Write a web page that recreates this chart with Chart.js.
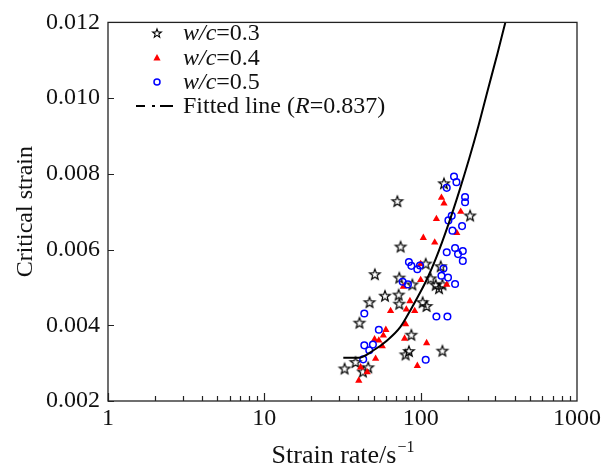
<!DOCTYPE html>
<html>
<head>
<meta charset="utf-8">
<script src="https://cdn.jsdelivr.net/npm/chart.js@4.4.0/dist/chart.umd.min.js"></script>
<style>
  html, body { margin: 0; padding: 0; background: #fff; }
</style>
</head>
<body>
<canvas id="chart" width="606" height="470"></canvas>
<script>
    // values
    const starX = [141, 70.9, 207, 74.4, 107.7, 134.4, 50.9, 73.0, 88.5, 115.9, 124.8, 131, 137.7, 59.1, 72.3, 73.0, 47.1, 103, 109, 40.6, 87.2, 84.1, 80.1, 137.8, 38.3, 46.2, 42.7, 32.6];
    const starY = [0.00775, 0.00728, 0.00690, 0.00608, 0.00563, 0.00556, 0.00535, 0.00526, 0.00508, 0.00524, 0.00507, 0.00498, 0.00508, 0.00478, 0.00481, 0.00457, 0.00461, 0.00461, 0.00451, 0.00407, 0.00375, 0.00332, 0.00323, 0.00333, 0.00303, 0.00289, 0.00278, 0.00286];

    const triX = [135.8, 141, 180.4, 126.1, 170.2, 104, 123, 100, 100, 77.5, 146.8, 85.4, 81, 91.6, 64.2, 80.1, 59.9, 57.7, 54.0, 50.7, 56.8, 78.9, 109.2, 51.5, 41.3, 45.5, 95.2, 40.2];
    const triY = [0.00737, 0.00722, 0.00700, 0.00681, 0.00644, 0.00631, 0.00619, 0.00562, 0.00520, 0.00502, 0.00507, 0.00464, 0.00442, 0.00438, 0.00438, 0.00403, 0.00388, 0.00373, 0.00360, 0.00363, 0.00345, 0.00365, 0.00353, 0.00312, 0.00289, 0.00276, 0.00293, 0.00254];

    const cirX = [163.4, 169.4, 146.8, 192.3, 192.3, 158, 150.5, 184, 159.7, 166, 186, 173.4, 146.8, 186, 84.1, 87.2, 95.2, 99, 139.9, 135.8, 149.6, 166, 76.7, 82.9, 126.1, 148.3, 43.6, 54.0, 43.6, 49.5, 46.9, 42.9, 107.7];
    const cirY = [0.00793, 0.00778, 0.00763, 0.00739, 0.00725, 0.00689, 0.00677, 0.00662, 0.00650, 0.00604, 0.00596, 0.00588, 0.00593, 0.00570, 0.00567, 0.00557, 0.00548, 0.00558, 0.00550, 0.00531, 0.00526, 0.00509, 0.00515, 0.00508, 0.00423, 0.00423, 0.00431, 0.00388, 0.00347, 0.00349, 0.00334, 0.00310, 0.00309];

    const fitX = [32, 40, 50, 61, 74, 86, 100, 110, 125, 152, 175, 204, 235, 267, 310, 348];
    const fitY = [0.00314, 0.00314, 0.00334, 0.0036, 0.00395, 0.0044, 0.00489, 0.00523, 0.00576, 0.00672, 0.00749, 0.00839, 0.00929, 0.01017, 0.01118, 0.012];

    const xTicks = [1, 10, 100, 1000];
    const yTicks = [0.002, 0.004, 0.006, 0.008, 0.010, 0.012];
    const seriesNames = ['0.3', '0.4', '0.5'];
    const fitR = '0.837';

    const SERIF = '"Liberation Serif", "Times New Roman", serif';

    function pts(xs, ys) {
        return xs.map((x, i) => ({ x: x, y: ys[i] }));
    }

    // five pointed outline star, used as point image
    function makeStar(r, lw) {
        const size = Math.ceil(2 * r + lw * 2 + 2);
        const c = document.createElement('canvas');
        c.width = size;
        c.height = size;
        const g = c.getContext('2d');
        const cx = size / 2, cy = size / 2 + r * 0.1;
        g.beginPath();
        for (let i = 0; i < 10; i++) {
            const rr = i % 2 ? r * 0.42 : r;
            const a = -Math.PI / 2 + i * Math.PI / 5;
            g.lineTo(cx + rr * Math.cos(a), cy + rr * Math.sin(a));
        }
        g.closePath();
        g.lineWidth = lw;
        g.strokeStyle = '#000';
        g.stroke();
        return c;
    }

    const starImg = makeStar(5.6, 1.2);
    const starLegend = makeStar(4.6, 1.1);

    function drawRich(ctx, parts, x, y) {
        parts.forEach(p => {
            ctx.font = (p[1] ? 'italic ' : '') + '24px ' + SERIF;
            ctx.fillText(p[0], x, y);
            x += ctx.measureText(p[0]).width;
        });
    }

    const framePlugin = {
        id: 'frame',
        afterDraw(chart) {
            const ctx = chart.ctx;
            const xs = chart.scales.x, ys = chart.scales.y;
            const { left, right, top, bottom } = chart.chartArea;
            ctx.save();
            ctx.strokeStyle = '#222';
            ctx.lineWidth = 1.3;
            ctx.strokeRect(left, top, right - left, bottom - top);

            // inward ticks
            ctx.lineWidth = 1.2;
            ctx.beginPath();
            for (let d = 1; d < 1000; d *= 10) {
                for (let m = 1; m < 10; m++) {
                    const px = Math.round(xs.getPixelForValue(d * m)) + 0.5;
                    const len = m === 1 ? 8 : 5;
                    ctx.moveTo(px, bottom);
                    ctx.lineTo(px, bottom - len);
                }
            }
            yTicks.forEach(v => {
                const py = Math.round(ys.getPixelForValue(v)) + 0.5;
                ctx.moveTo(left, py);
                ctx.lineTo(left + 6, py);
            });
            ctx.stroke();

            // x axis title with superscript
            ctx.fillStyle = '#111';
            ctx.textBaseline = 'alphabetic';
            const main = 'Strain rate/s';
            ctx.font = '26px ' + SERIF;
            const w1 = ctx.measureText(main).width;
            ctx.font = '16px ' + SERIF;
            const sup = '\u22121';
            const w2 = ctx.measureText(sup).width;
            const cx = (left + right) / 2;
            const x0 = cx - (w1 + w2) / 2;
            ctx.font = '26px ' + SERIF;
            ctx.fillText(main, x0, 463);
            ctx.font = '16px ' + SERIF;
            ctx.fillText(sup, x0 + w1 + 1, 452);

            // legend
            const rows = [33, 58, 82, 106];
            const mx = 157, tx = 183;
            ctx.textBaseline = 'middle';
            ctx.drawImage(starLegend, mx - starLegend.width / 2, rows[0] - starLegend.height / 2);
            ctx.fillStyle = '#ff0000';
            ctx.beginPath();
            ctx.moveTo(mx, rows[1] - 4);
            ctx.lineTo(mx + 3.6, rows[1] + 2.5);
            ctx.lineTo(mx - 3.6, rows[1] + 2.5);
            ctx.closePath();
            ctx.fill();
            ctx.strokeStyle = '#0000ff';
            ctx.lineWidth = 1.5;
            ctx.beginPath();
            ctx.arc(mx, rows[2], 3, 0, Math.PI * 2);
            ctx.stroke();
            ctx.strokeStyle = '#000';
            ctx.lineWidth = 2;
            ctx.beginPath();
            ctx.moveTo(136, rows[3]); ctx.lineTo(145, rows[3]);
            ctx.moveTo(152, rows[3]); ctx.lineTo(155, rows[3]);
            ctx.moveTo(160, rows[3]); ctx.lineTo(173, rows[3]);
            ctx.stroke();

            ctx.fillStyle = '#111';
            seriesNames.forEach((s, i) => {
                drawRich(ctx, [['w/c', true], ['=' + s, false]], tx, rows[i] + 1);
            });
            drawRich(ctx, [['Fitted line (', false], ['R', true], ['=' + fitR + ')', false]], tx, rows[3] + 1);
            ctx.restore();
        }
    };

    const chart = new Chart(document.getElementById('chart').getContext('2d'), {
        type: 'scatter',
        data: {
            datasets: [
                {
                    type: 'line',
                    label: 'Fitted line',
                    data: pts(fitX, fitY),
                    borderColor: '#000',
                    borderWidth: 2,
                    pointRadius: 0,
                    cubicInterpolationMode: 'monotone',
                    fill: false
                },
                {
                    label: 'w/c=0.5',
                    data: pts(cirX, cirY),
                    pointStyle: 'circle',
                    pointRadius: 3.3,
                    borderColor: '#0000ff',
                    backgroundColor: 'rgba(0,0,0,0)',
                    borderWidth: 1.5
                },
                {
                    label: 'w/c=0.4',
                    data: pts(triX, triY),
                    pointStyle: 'triangle',
                    pointRadius: 4.2,
                    borderWidth: 0,
                    borderColor: '#ff0000',
                    backgroundColor: '#ff0000'
                },
                {
                    label: 'w/c=0.3',
                    data: pts(starX, starY),
                    pointStyle: starImg,
                    pointRadius: 5
                }
            ]
        },
        options: {
            responsive: false,
            animation: false,
            layout: { padding: { left: 0, right: 29, top: 15, bottom: 0 } },
            plugins: {
                legend: { display: false },
                tooltip: { enabled: false }
            },
            scales: {
                x: {
                    type: 'logarithmic',
                    min: 1,
                    max: 1000,
                    afterBuildTicks: s => { s.ticks = xTicks.map(v => ({ value: v })); },
                    afterFit: s => { s.height = 69; },
                    grid: { display: false, drawTicks: false },
                    border: { display: false },
                    ticks: {
                        padding: 3,
                        color: '#111',
                        font: { family: SERIF, size: 24 },
                        maxRotation: 0,
                        autoSkip: false,
                        callback: v => String(v)
                    }
                },
                y: {
                    min: 0.002,
                    max: 0.012,
                    afterBuildTicks: s => { s.ticks = yTicks.map(v => ({ value: v })); },
                    afterFit: s => { s.width = 108; },
                    grid: { display: false, drawTicks: false },
                    border: { display: false },
                    ticks: {
                        padding: 8,
                        color: '#111',
                        font: { family: SERIF, size: 24 },
                        callback: v => v.toFixed(3)
                    },
                    title: {
                        display: true,
                        text: 'Critical strain',
                        color: '#111',
                        font: { family: SERIF, size: 24, lineHeight: 1.2 },
                        padding: { top: 11, bottom: 0 }
                    }
                }
            }
        },
        plugins: [framePlugin]
    });
</script>
</body>
</html>
